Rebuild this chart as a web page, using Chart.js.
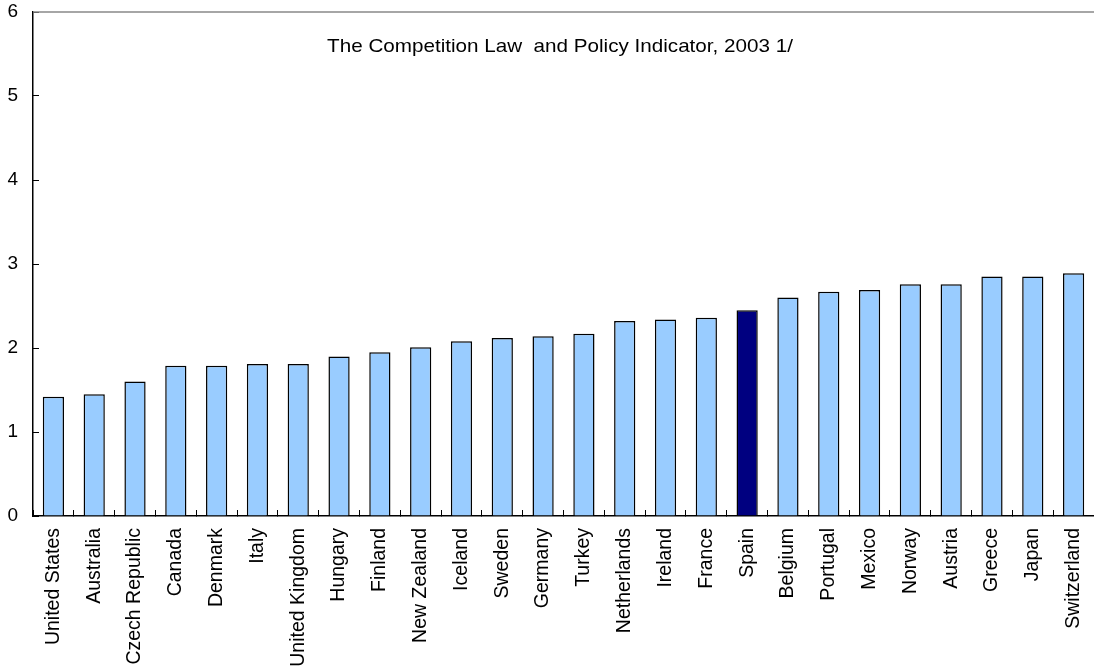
<!DOCTYPE html>
<html>
<head>
<meta charset="utf-8">
<script src="https://cdn.jsdelivr.net/npm/chart.js@4/dist/chart.umd.min.js"></script>
<style>
    html, body { margin: 0; padding: 0; background: #fff; }
    #wrap { width: 1094px; height: 670px; }
</style>
</head>
<body>
<div id="wrap"><canvas id="chart"></canvas></div>
<script>
const COUNTRIES = [
    'United States', 'Australia', 'Czech Republic', 'Canada', 'Denmark', 'Italy',
    'United Kingdom', 'Hungary', 'Finland', 'New Zealand', 'Iceland', 'Sweden',
    'Germany', 'Turkey', 'Netherlands', 'Ireland', 'France', 'Spain', 'Belgium',
    'Portugal', 'Mexico', 'Norway', 'Austria', 'Greece', 'Japan', 'Switzerland'
];

const INDICATOR = [
    1.42, 1.45, 1.60, 1.79, 1.79, 1.81,
    1.81, 1.90, 1.95, 2.01, 2.08, 2.12,
    2.14, 2.17, 2.32, 2.34, 2.36, 2.45, 2.60,
    2.67, 2.69, 2.76, 2.76, 2.85, 2.85, 2.89
];

const Y_TICKS = [0, 1, 2, 3, 4, 5, 6];
const TITLE = 'The Competition Law  and Policy Indicator, 2003 1/';
const HIGHLIGHT = 'Spain';

const FONT = '"Liberation Sans", Arial, sans-serif';

// подпись внутри области графика и серая линия сверху
const framePlugin = {
    id: 'frame',
    afterDraw(chart) {
        const { ctx, chartArea } = chart;
        ctx.save();
        ctx.strokeStyle = '#888';
        ctx.lineWidth = 1.5;
        ctx.beginPath();
        ctx.moveTo(chartArea.left, chartArea.top);
        ctx.lineTo(chartArea.right, chartArea.top);
        ctx.stroke();

        // текст слегка растянут по горизонтали
        ctx.fillStyle = '#000';
        ctx.font = '18.6px ' + FONT;
        ctx.textAlign = 'center';
        ctx.textBaseline = 'middle';
        ctx.translate(560, chartArea.top + 35);
        ctx.scale(1.11, 1);
        ctx.fillText(TITLE, 0, 0);
        ctx.restore();
    }
};

new Chart(document.getElementById('chart'), {
    type: 'bar',
    data: {
        labels: COUNTRIES,
        datasets: [{
            data: INDICATOR,
            backgroundColor: COUNTRIES.map(c => c == HIGHLIGHT ? '#000080' : '#99CCFF'),
            borderColor: '#000',
            borderWidth: 1.5,
            barPercentage: 0.52,
            categoryPercentage: 1
        }]
    },
    options: {
        responsive: true,
        maintainAspectRatio: false,
        animation: false,
        layout: { padding: { top: 12, right: 0, bottom: 0, left: 0 } },
        plugins: {
            legend: { display: false },
            tooltip: { enabled: false }
        },
        scales: {
            x: {
                grid: { display: true, drawOnChartArea: false, offset: true, tickLength: -6, color: '#000' },
                border: { color: '#000', width: 1.5 },
                ticks: {
                    color: '#000',
                    font: { family: FONT, size: 19.5 },
                    minRotation: 90,
                    maxRotation: 90,
                    autoSkip: false,
                    padding: 18
                },
                afterFit: scale => {
                    scale.height = 154;
                    scale.paddingLeft = 0;
                    scale.paddingRight = 0;
                }
            },
            y: {
                min: 0,
                max: 6,
                afterBuildTicks: scale => { scale.ticks = Y_TICKS.map(v => ({ value: v })); },
                grid: { display: true, drawOnChartArea: false, tickLength: -6, color: '#000' },
                border: { color: '#000', width: 1.5 },
                ticks: {
                    color: '#000',
                    font: { family: FONT, size: 19 },
                    padding: 21
                },
                afterFit: scale => {
                    scale.width = 33;
                    scale.paddingTop = 0;
                    scale.paddingBottom = 0;
                }
            }
        }
    },
    plugins: [framePlugin]
});
</script>
</body>
</html>
